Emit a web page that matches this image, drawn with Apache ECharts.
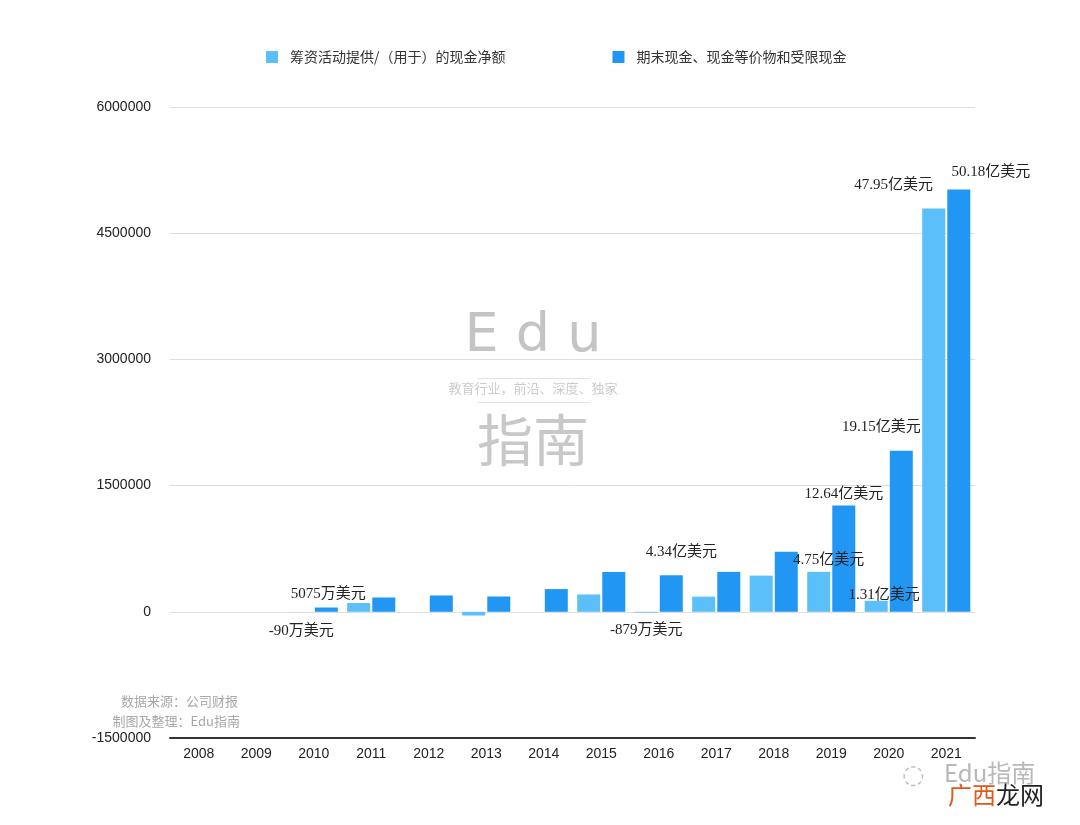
<!DOCTYPE html>
<html>
<head>
<meta charset="utf-8">
<script src="https://cdn.jsdelivr.net/npm/echarts@6/dist/echarts.min.js"></script>
<style>
html,body{margin:0;padding:0;background:#fff;}
#main{width:1080px;height:825px;}
</style>
</head>
<body>
<div id="main"></div>
<script>
// 数据（单位：千美元）
var years = ['2008','2009','2010','2011','2012','2013','2014','2015','2016','2017','2018','2019','2020','2021'];
var financing = [null, null, -900, 104000, null, -44000, null, 206000, -8790, 180000, 430000, 475000, 131000, 4795000];
var cashEnd = [null, null, 50750, 170000, 194000, 182000, 270000, 473000, 434000, 475000, 714000, 1264000, 1915000, 5018000];
var financingLabels = [null, null, '-90万美元', null, null, null, null, null, '-879万美元', null, null, '4.75亿美元', '1.31亿美元', '47.95亿美元'];
var cashEndLabels = [null, null, '5075万美元', null, null, null, null, null, '4.34亿美元', null, null, '12.64亿美元', '19.15亿美元', '50.18亿美元'];
var yTicks = [-1500000, 0, 1500000, 3000000, 4500000, 6000000];
var seriesNames = ['筹资活动提供/（用于）的现金净额', '期末现金、现金等价物和受限现金'];

// 标签位置微调（样式）
var lightOffset = {2: [0, 8], 8: [0, 6], 11: [10, 0], 12: [8, 6], 13: [-40, -12]};
var darkOffset = {2: [2, -2], 8: [10, -12], 11: [0, 0], 12: [-20, -12], 13: [32, -6]};

var labelFont = {fontFamily: '"Liberation Serif","Noto Sans CJK SC",serif', fontSize: 15, color: '#222'};

function buildData(values, labels, offsets) {
	var out = [];
	for (var i = 0; i < values.length; i++) {
		var item = {value: values[i]};
		if (labels[i]) {
			item.label = Object.assign({
				show: true,
				position: values[i] < 0 ? 'bottom' : 'top',
				distance: 4,
				offset: offsets[i] || [0, 0],
				formatter: labels[i]
			}, labelFont);
		}
		out.push(item);
	}
	return out;
}

var chart = echarts.init(document.getElementById('main'));
var option = {
	backgroundColor: '#fff',
	animation: false,
	textStyle: {fontFamily: '"Liberation Sans","Noto Sans CJK SC",sans-serif'},
	legend: {
		left: 261,
		top: 45,
		itemWidth: 12,
		itemHeight: 12,
		itemGap: 107,
		icon: 'rect',
		data: seriesNames,
		textStyle: {fontSize: 14, color: '#333', padding: [0, 0, 0, 7], fontFamily: '"Noto Sans CJK SC",sans-serif'}
	},
	grid: {left: 170, right: 105, top: 107, bottom: 87, containLabel: false},
	xAxis: {
		type: 'category',
		data: years,
		axisLine: {onZero: false, lineStyle: {color: '#333', width: 2}},
		axisTick: {show: false},
		axisLabel: {color: '#222', fontSize: 14, margin: 9}
	},
	yAxis: {
		type: 'value',
		min: yTicks[0],
		max: yTicks[yTicks.length - 1],
		interval: 1500000,
		axisLine: {show: false},
		axisTick: {show: false},
		axisLabel: {color: '#222', fontSize: 14, margin: 19, formatter: function (v) { return String(v); }},
		splitLine: {lineStyle: {color: '#dedede', width: 1}}
	},
	series: [
		{
			name: seriesNames[0],
			type: 'bar',
			barWidth: 23,
			barGap: '9%',
			itemStyle: {color: '#5bbff9'},
			data: buildData(financing, financingLabels, lightOffset)
		},
		{
			name: seriesNames[1],
			type: 'bar',
			barWidth: 23,
			itemStyle: {color: '#2196f3'},
			data: buildData(cashEnd, cashEndLabels, darkOffset)
		}
	],
	graphic: [
		{type: 'text', x: 533, y: 310, silent: true,
			style: {text: 'E d u', font: '54px "DejaVu Sans", sans-serif', fill: '#c4c4c4', textAlign: 'center'}},
		{type: 'rect', shape: {x: 478, y: 378, width: 112, height: 1}, style: {fill: '#e2e2e2'}, silent: true},
		{type: 'text', x: 533, y: 382, silent: true,
			style: {text: '教育行业，前沿、深度、独家', font: '13px "Noto Sans CJK SC"', fill: '#cbcbcb', textAlign: 'center'}},
		{type: 'rect', shape: {x: 478, y: 402, width: 112, height: 1}, style: {fill: '#e2e2e2'}, silent: true},
		{type: 'text', x: 533, y: 412, silent: true,
			style: {text: '指南', font: '56px "Noto Sans CJK SC"', fill: '#c8c8c8', textAlign: 'center'}},
		{type: 'text', x: 238, y: 695,
			style: {text: '数据来源：公司财报', font: '13px "Noto Sans CJK SC"', fill: '#a8a8a8', textAlign: 'right'}},
		{type: 'text', x: 240, y: 715,
			style: {text: '制图及整理：Edu指南', font: '13px "Noto Sans CJK SC"', fill: '#a8a8a8', textAlign: 'right'}},
		{type: 'text', x: 902, y: 763,
			style: {text: '◌', font: '26px "DejaVu Sans"', fill: '#c0c0c0'}},
		{type: 'text', x: 944, y: 761,
			style: {text: 'Edu指南', font: '24px "Noto Sans CJK SC"', fill: '#b8b8b8'}},
		{type: 'text', x: 948, y: 783,
			style: {
				text: '{a|广西}{b|龙网}',
				rich: {
					a: {font: '24px "Noto Sans CJK SC"', fill: '#e0581c', color: '#e0581c'},
					b: {font: '24px "Noto Sans CJK SC"', fill: '#222', color: '#222'}
				}
			}}
	]
};
chart.setOption(option);
</script>
</body>
</html>
